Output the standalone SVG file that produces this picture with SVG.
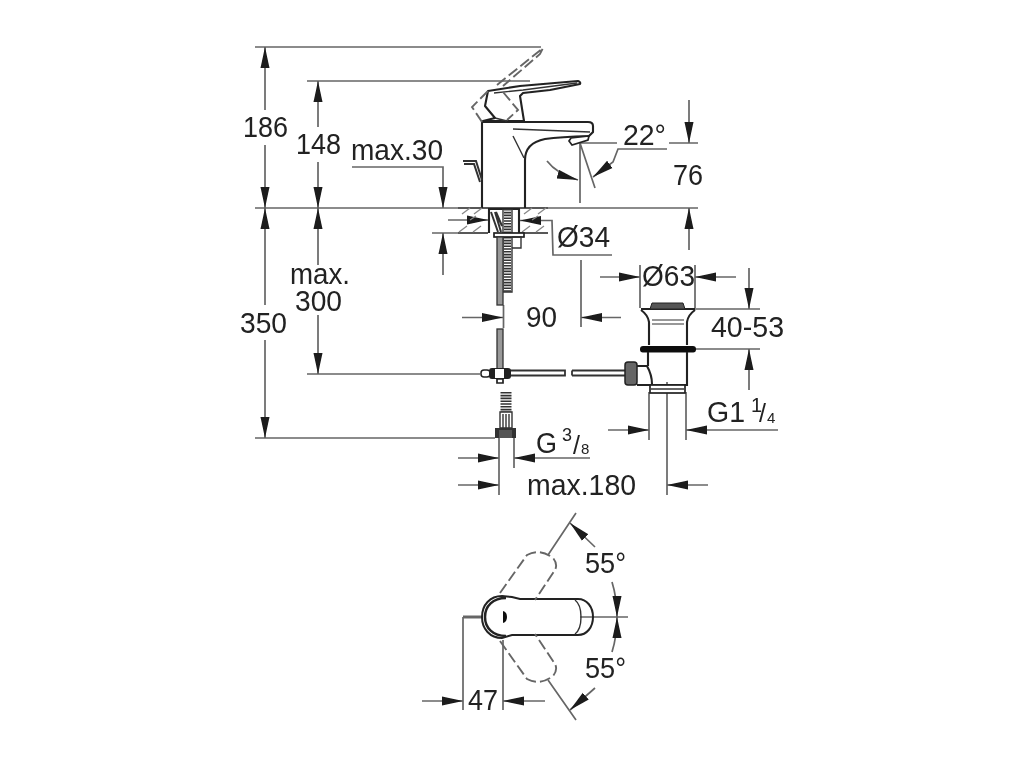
<svg xmlns="http://www.w3.org/2000/svg" width="1024" height="768" viewBox="0 0 1024 768">
<style>
text{font-family:"Liberation Sans",Arial,sans-serif;font-size:29px;fill:#222}
text.u{font-size:20px}
text.l{font-size:15px}
text.v{font-size:25px}
.d{fill:none;stroke:#666;stroke-width:1.7}
.a{marker-end:url(#ah)}
.o{fill:none;stroke:#222;stroke-width:2.1}
.t{fill:none;stroke:#333;stroke-width:1.4}
.l2{fill:none;stroke:#777;stroke-width:1.4}
.dash{fill:none;stroke:#666;stroke-width:1.9;stroke-dasharray:11 4}
.h{fill:none;stroke:#888;stroke-width:1.3}
.th{fill:none;stroke:#333;stroke-dasharray:1.6 1.2}
.k{fill:#111;stroke:#111}
.w{fill:#fff;stroke:#222;stroke-width:1.7}
</style>
<defs>
<marker id="ah" markerUnits="userSpaceOnUse" markerWidth="24" markerHeight="12" refX="21" refY="5" orient="auto"><path d="M21 5L0 .5L0 9.5Z" fill="#1a1a1a"/></marker>
<filter id="soft" x="0" y="0" width="1024" height="768" filterUnits="userSpaceOnUse"><feGaussianBlur stdDeviation="0.55"/></filter>
</defs>
<rect width="1024" height="768" fill="#fff"/>
<g filter="url(#soft)">
<g id="connectors">
<path class="d" d="M255 47H541M307 81H530M255 208H458M548 208H698M432 233H458M307 374H480M255 438H495"/>
<path class="d a" d="M265 110V47"/><path class="d a" d="M265 145V208"/>
<path class="d a" d="M265 305V208"/><path class="d a" d="M265 340V438"/>
<path class="d a" d="M318 127V81"/><path class="d a" d="M318 162V208"/>
<path class="d a" d="M318 265V208"/><path class="d a" d="M318 315V374"/>
<path class="d a" d="M352 167H443V208"/><path class="d a" d="M443 275V233"/>
<path class="d" d="M580 143H617M669 143H698M580 143V203M580 143L595 188"/>
<path class="d a" d="M689 100V143"/><path class="d a" d="M689 250V208"/>
<path class="d a" d="M667 149H618L613 162L593 177"/>
<path class="d a" d="M547 161Q557 174 578 180"/>
<path class="d a" d="M448 220H488"/><path class="d a" d="M612 255H553L552 220.500H520"/>
<path class="d" d="M581 260V327M503.500 305V328"/>
<path class="d a" d="M462 317.500H503"/><path class="d a" d="M621 317.500H581"/>
<path class="d" d="M640 265V308M695 265V308"/>
<path class="d a" d="M600 277H640"/><path class="d a" d="M736 277H695"/>
<path class="d" d="M695 309H760M695 349H760"/>
<path class="d a" d="M749 268V309"/><path class="d a" d="M749 390V349"/>
<path class="d" d="M649 392V440M686 392V440"/>
<path class="d a" d="M608 430H649"/><path class="d a" d="M778 430H686"/>
<path class="d" d="M499 438V495M514 438V468M667 382V495"/>
<path class="d a" d="M458 458H499"/><path class="d a" d="M590 458H514"/>
<path class="d a" d="M458 485H499"/><path class="d a" d="M708 485H667"/>
<path class="d" d="M580 617H628M463 617V710M503 640V710M548 555L576 513M548 680L576 720"/>
<path class="d a" d="M422 701H463"/><path class="d a" d="M545 701H503"/>
<path class="d a" d="M595 547L570 523"/><path class="d a" d="M595 688L570 710"/>
<path class="d a" d="M612 582Q617 598 617 617"/><path class="d a" d="M612 652Q617 636 617 617"/>
</g>

<g id="faucet">
<path class="o" d="M482 208V122H588Q593 122 593 126V132L589 136Q560 137 545 139Q525 143 525 160V208"/>
<path class="t" d="M513 129L590 132M513 136L524 158"/>
<path class="w" d="M569 141L571 138L589 136L588 140L572 145Z"/>
<path d="M488 91L520 86L578 81Q581 82 580 84L550 90L523 93Q521 95 520 96L524 121H483L495 118L485 106Z" fill="#fff" stroke="#222" stroke-width="2.100" stroke-linejoin="round"/>
<path class="t" d="M494 93L523 90L577 83M495 118L507 121"/>
<path class="dash" d="M497 85L543 48L540 54L503 86M488 91L472 107L482 122M503 92L518 110L507 120"/>
<path class="t" style="stroke-width:2" d="M463 161H476L482 180M464 164H474L480 182"/>
</g>

<g id="counter">
<path class="o" style="stroke-width:1.700" d="M458 208H548M458 233H488M520 233H548"/>
<path class="h" d="M462 214L470 208M474 214L482 208M459 232L467 226M473 232L481 226M470 220L476 216M524 214L532 208M538 214L546 208M522 232L530 226M536 232L544 226M532 220L538 216"/>
<path class="o" d="M488 209H520M489 209V233M519 209V233"/>
</g>

<g id="shank">
<path class="th" style="stroke-width:7" d="M507.500 209V292"/>
<path class="t" d="M503 209V292H512V209"/>
<path class="t" style="stroke-width:2" d="M491 212L498 232M495 212L501 232M496 212L502 226"/>
<rect class="w" x="494" y="233" width="30" height="4"/>
<path class="t" d="M512 237H521V248H512"/>
<rect x="497" y="237" width="6" height="68" fill="#999" stroke="#333" stroke-width="1.300"/>
<rect x="497" y="329" width="6" height="45" fill="#999" stroke="#333" stroke-width="1.300"/>
</g>

<g id="lower-fitting">
<path class="t" style="stroke-width:1.800" d="M510 370.500H565V375.500H510M572 370.500H625M572 375.500H625M572 370.500V375.500"/>
<rect x="481" y="370" width="9" height="7" rx="3" fill="#fff" stroke="#222" stroke-width="1.500"/>
<rect x="489" y="368" width="22" height="11" rx="3" fill="#222"/>
<rect x="495" y="369" width="9" height="9" fill="#fff"/>
<path class="w" d="M497 379H503V383H497Z"/>
<path class="th" style="stroke-width:11" d="M506 392V412"/>
<path class="t" d="M500 412H512V428H500ZM503 414V428M506 414V428M509 414V428"/>
<rect x="495" y="428" width="21" height="10" fill="#333"/>
<rect x="499" y="430" width="13" height="8" fill="#555"/>
</g>

<g id="drain">
<path class="o" d="M649 345V322Q648 315 641 310M687 345V322Q688 315 695 310M641 309H695"/>
<path class="l2" d="M652 320H684M652 324H684"/>
<path d="M650 309L652 303H683L685 309Z" fill="#555" stroke="#222"/>
<rect x="640" y="346" width="56" height="6.500" rx="3" fill="#111"/>
<path class="o" d="M648 352V366M687 352V385H637"/>
<rect class="w" x="650" y="385" width="35" height="8"/>
<path class="t" d="M651 389H684"/>
<path class="o" d="M637 366H647Q652 375 652 384"/>
<rect x="625" y="362" width="12" height="23" rx="3" fill="#666" stroke="#222" stroke-width="1.500"/>
</g>

<g id="plan-view">
<path class="d" style="stroke-width:3" d="M463 617H482"/>
<path d="M502 596C490 596 482 605 482 617C482 629 490 638 502 638L512 635H578C587 635 593 627 593 617C593 607 587 599 578 599H520L512 597Z" fill="none" stroke="#222" stroke-width="2"/>
<path d="M506 598C493 598 485 606 485 617C485 628 493 636 506 636" fill="none" stroke="#222" stroke-width="2.500"/>
<path class="t" d="M575 600C583 606 583 628 575 634"/>
<path d="M503 611Q507 612 507 617Q507 622 503 623Z" fill="#111"/>
<path class="dash" d="M500 593L527 555Q540 548 553 558Q558 564 555 570L535 600"/>
<path class="dash" d="M500 641L527 679Q540 686 553 676Q558 670 555 664L535 634"/>
</g>

<g id="labels">
<text x="243" y="137" textLength="45" lengthAdjust="spacingAndGlyphs">186</text>
<text x="296" y="154" textLength="45" lengthAdjust="spacingAndGlyphs">148</text>
<text x="351" y="160" textLength="92" lengthAdjust="spacingAndGlyphs">max.30</text>
<text x="623" y="145" textLength="43" lengthAdjust="spacingAndGlyphs">22°</text>
<text x="673" y="185" textLength="30" lengthAdjust="spacingAndGlyphs">76</text>
<text x="557" y="247" textLength="53" lengthAdjust="spacingAndGlyphs">Ø34</text>
<text x="642" y="286" textLength="53" lengthAdjust="spacingAndGlyphs">Ø63</text>
<text x="526" y="327" textLength="31" lengthAdjust="spacingAndGlyphs">90</text>
<text x="711" y="337" textLength="73" lengthAdjust="spacingAndGlyphs">40-53</text>
<text x="290" y="284" textLength="60" lengthAdjust="spacingAndGlyphs">max.</text>
<text x="295" y="311" textLength="47" lengthAdjust="spacingAndGlyphs">300</text>
<text x="240" y="333" textLength="47" lengthAdjust="spacingAndGlyphs">350</text>
<text x="707" y="422" textLength="38" lengthAdjust="spacingAndGlyphs">G1</text>
<text class="u" x="751" y="412">1</text>
<text class="v" x="759" y="422">/</text>
<text class="l" x="767" y="423">4</text>
<text x="536" y="453" textLength="21" lengthAdjust="spacingAndGlyphs">G</text>
<text class="u" x="562" y="441" style="font-size:18px">3</text>
<text class="v" x="573" y="454">/</text>
<text class="l" x="581" y="454">8</text>
<text x="527" y="495" textLength="109" lengthAdjust="spacingAndGlyphs">max.180</text>
<text x="585" y="573" textLength="41" lengthAdjust="spacingAndGlyphs">55°</text>
<text x="585" y="678" textLength="41" lengthAdjust="spacingAndGlyphs">55°</text>
<text x="468" y="710" textLength="30" lengthAdjust="spacingAndGlyphs">47</text>
</g>
</g>
</svg>
